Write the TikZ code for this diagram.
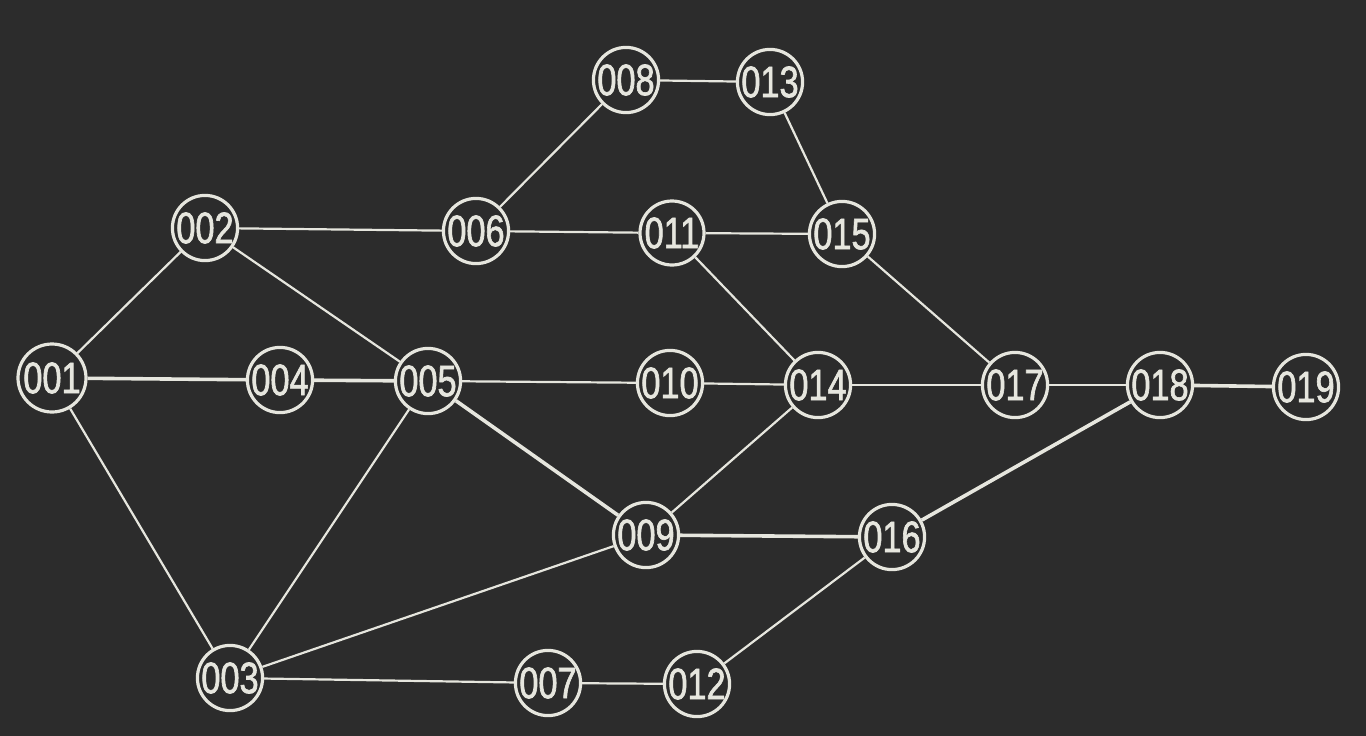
\documentclass[tikz,border=0pt]{standalone}
\usepackage{fontspec}
\newfontfamily\nodefont[FakeStretch=0.78,FakeBold=1.5]{Liberation Sans}
\definecolor{bg}{HTML}{2C2C2C}
\definecolor{ink}{HTML}{E6E6DE}
\begin{document}
\begin{tikzpicture}[x=1pt,y=-1pt,
  ev/.style={circle,draw=ink,line width=3.2pt,minimum size=64pt,inner sep=0pt,text=ink,font=\nodefont\fontsize{44}{44}\selectfont},
  act/.style={draw=ink,line width=2.2pt},
  crit/.style={draw=ink,line width=3.6pt}]
\fill[bg] (0,0) rectangle (1366,736);
\useasboundingbox (0,0) rectangle (1366,736);
\node[ev,minimum size=68pt] (n001) at (52,378) {001};
\node[ev] (n002) at (205,228) {002};
\node[ev] (n003) at (230,678) {003};
\node[ev] (n004) at (280,380) {004};
\node[ev] (n005) at (428,381) {005};
\node[ev] (n006) at (476,231) {006};
\node[ev] (n007) at (548,683) {007};
\node[ev] (n008) at (626,80) {008};
\node[ev] (n009) at (646,535) {009};
\node[ev] (n010) at (670,383) {010};
\node[ev] (n011) at (672,233) {011};
\node[ev] (n012) at (697,684) {012};
\node[ev] (n013) at (770,82) {013};
\node[ev] (n014) at (818,385) {014};
\node[ev] (n015) at (842,234) {015};
\node[ev] (n016) at (892,537) {016};
\node[ev] (n017) at (1015,385) {017};
\node[ev] (n018) at (1160,385) {018};
\node[ev] (n019) at (1306,387) {019};
\draw[act] (n001) -- (n002);
\draw[act] (n001) -- (n003);
\draw[crit] (n001) -- (n004);
\draw[act] (n002) -- (n006);
\draw[act] (n002) -- (n005);
\draw[crit] (n004) -- (n005);
\draw[act] (n005) -- (n010);
\draw[crit] (n005) -- (n009);
\draw[act] (n005) -- (n003);
\draw[act] (n003) -- (n009);
\draw[act] (n003) -- (n007);
\draw[act] (n006) -- (n008);
\draw[act] (n006) -- (n011);
\draw[act] (n008) -- (n013);
\draw[act] (n013) -- (n015);
\draw[act] (n011) -- (n015);
\draw[act] (n011) -- (n014);
\draw[act] (n015) -- (n017);
\draw[act] (n010) -- (n014);
\draw[act] (n014) -- (n009);
\draw[act] (n014) -- (n017);
\draw[crit] (n009) -- (n016);
\draw[act] (n007) -- (n012);
\draw[act] (n012) -- (n016);
\draw[crit] (n016) -- (n018);
\draw[act] (n017) -- (n018);
\draw[crit] (n018) -- (n019);
\end{tikzpicture}
\end{document}
